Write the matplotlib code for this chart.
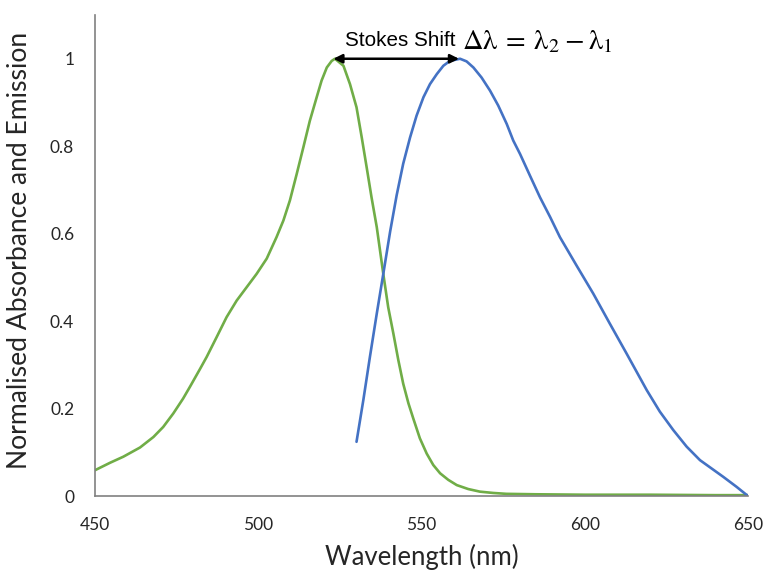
import matplotlib
matplotlib.use("Agg")
import matplotlib.pyplot as plt

# Absorbance (green)
abs_wl = [450.0, 454.6, 458.7, 463.8, 467.9, 470.9, 474.0, 477.0, 479.1, 482.2, 484.2,
          487.3, 490.3, 493.4, 496.5, 499.5, 502.6, 505.6, 507.7, 509.7, 511.8, 513.8,
          515.8, 517.9, 519.4, 521.0, 522.5, 523.5, 526.1, 528.1, 530.1, 531.7, 533.2,
          534.7, 536.3, 538.3, 539.8, 541.4, 542.9, 544.4, 546.0, 547.5, 549.5, 551.6,
          553.6, 555.7, 558.2, 560.8, 564.3, 567.9, 572.0, 576.0, 585.0, 600.0, 620.0,
          640.0, 650.0]
abs_val = [0.059, 0.076, 0.090, 0.111, 0.135, 0.158, 0.189, 0.223, 0.250, 0.291, 0.318,
           0.364, 0.409, 0.447, 0.478, 0.508, 0.543, 0.592, 0.630, 0.676, 0.737, 0.797,
           0.858, 0.912, 0.950, 0.980, 0.995, 1.000, 0.984, 0.942, 0.889, 0.820, 0.752,
           0.683, 0.615, 0.508, 0.432, 0.371, 0.311, 0.257, 0.212, 0.177, 0.132, 0.097,
           0.071, 0.052, 0.037, 0.025, 0.016, 0.010, 0.007, 0.005, 0.004, 0.003, 0.003,
           0.002, 0.002]

# Emission (blue)
em_wl = [530.1, 532.2, 534.2, 536.3, 538.3, 540.4, 542.4, 544.4, 546.5, 548.5,
         550.6, 552.6, 554.7, 556.7, 558.7, 561.8, 563.8, 565.9, 568.4, 571.0, 573.5,
         576.1, 578.1, 580.2, 583.2, 586.3, 589.4, 592.4, 597.5, 602.6, 607.7, 612.8,
         619.0, 623.0, 627.1, 631.2, 635.3, 642.4, 646.5, 650.0]
em_val = [0.124, 0.220, 0.318, 0.417, 0.508, 0.605, 0.688, 0.760, 0.820, 0.870,
          0.912, 0.942, 0.965, 0.984, 0.995, 1.000, 0.994, 0.980, 0.957, 0.927, 0.893,
          0.851, 0.813, 0.782, 0.733, 0.683, 0.638, 0.592, 0.527, 0.463, 0.394, 0.326,
          0.242, 0.193, 0.151, 0.113, 0.082, 0.044, 0.021, 0.000]

x_ticks = [450, 500, 550, 600, 650]
y_ticks = [0, 0.2, 0.4, 0.6, 0.8, 1.0]
y_tick_labels = ["0", "0.2", "0.4", "0.6", "0.8", "1"]

peak_abs = 523.0
peak_em = 561.8

plt.rcParams["mathtext.fontset"] = "stix"

fig = plt.figure(figsize=(7.66, 5.71), dpi=100)
ax = fig.add_axes([0.124, 0.1313, 0.8525, 0.8424])

ax.plot(abs_wl, abs_val, color="#70AD47", lw=1.9, solid_joinstyle="round",
        solid_capstyle="round")
ax.plot(em_wl, em_val, color="#4472C4", lw=1.9, solid_joinstyle="round",
        solid_capstyle="round")

ax.annotate("", xy=(peak_abs, 1.0), xytext=(peak_em - 0.3, 1.0),
            arrowprops=dict(arrowstyle="<|-|>", color="black", lw=1.8,
                            mutation_scale=13, shrinkA=0, shrinkB=0))

ax.text(526.6, 1.030, "Stokes Shift", fontsize=14.9, family="Liberation Sans",
        ha="left", va="baseline")
ax.text(562.4, 1.023, r"$\mathrm{\Delta\lambda\:=\:\lambda_2\:-\:\lambda_1}$",
        fontsize=20.5, ha="left", va="baseline")

ax.set_xlim(450, 650)
ax.set_ylim(0, 1.1)
ax.set_xticks(x_ticks)
ax.set_xticklabels([str(t) for t in x_ticks])
ax.set_yticks(y_ticks)
ax.set_yticklabels(y_tick_labels)
ax.tick_params(length=0, labelsize=12.5, pad=15)
for lab in ax.get_xticklabels() + ax.get_yticklabels():
    lab.set_family("Lato")
    lab.set_color("#262626")

for s in ["top", "right"]:
    ax.spines[s].set_visible(False)
ax.spines["left"].set_color("#808080")
ax.spines["bottom"].set_color("#808080")
ax.spines["left"].set_linewidth(1.2)
ax.spines["bottom"].set_linewidth(1.2)

ax.set_xlabel("Wavelength (nm)", fontsize=18.5, family="Lato", color="#262626")
ax.set_ylabel("Normalised Absorbance and Emission", fontsize=19.1, family="Lato",
              color="#262626")
ax.xaxis.set_label_coords(0.5, -0.127)
ax.xaxis.label.set_va("center")
ax.yaxis.set_label_coords(-0.116, 0.51)
ax.yaxis.label.set_va("center")

fig.savefig("out.png", dpi=100)
